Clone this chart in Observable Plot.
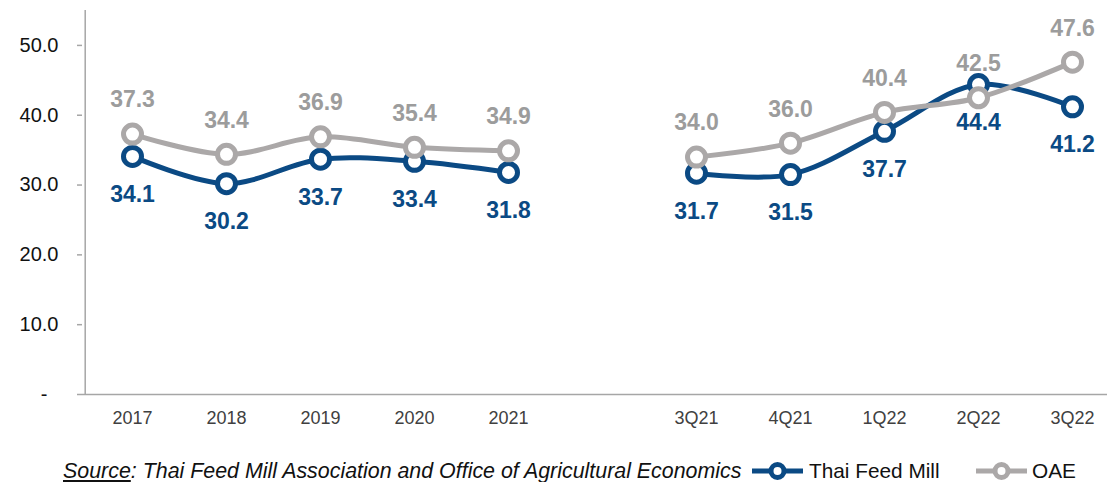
<!DOCTYPE html>
<html>
<head>
<meta charset="utf-8">
<script src="https://cdn.jsdelivr.net/npm/d3@7"></script>
<script src="https://cdn.jsdelivr.net/npm/@observablehq/plot@0.6"></script>
<style>
  html, body { margin: 0; padding: 0; background: #fff; }
  body { width: 1107px; height: 482px; overflow: hidden; font-family: Arial, "Liberation Sans", sans-serif; }
  #chart { position: relative; width: 1107px; height: 440px; }
  #foot { position: absolute; left: 0; top: 459px; width: 1107px; height: 24px; color: #111; }
  #foot .src { position: absolute; left: 63px; top: 0; font-style: italic; white-space: nowrap; font-size: 21.4px; line-height: 24px; }
  #foot .src u { text-decoration: underline; }
  .leg { position: absolute; top: 1px; display: flex; align-items: center; white-space: nowrap; font-size: 20.8px; line-height: 22px; }
</style>
</head>
<body>
<div id="chart"></div>
<div id="foot">
  <span class="src"><u>Source</u>: Thai Feed Mill Association and Office of Agricultural Economics</span>
  <span class="leg" id="leg1" style="left:752px"></span>
  <span class="leg" id="leg2" style="left:976px"></span>
</div>
<script>
// ---- data ----
const categories = ["2017", "2018", "2019", "2020", "2021", " ", "3Q21", "4Q21", "1Q22", "2Q22", "3Q22"];
const annualCats = ["2017", "2018", "2019", "2020", "2021"];
const quarterCats = ["3Q21", "4Q21", "1Q22", "2Q22", "3Q22"];
const thaiFeedMillAnnual = [34.1, 30.2, 33.7, 33.4, 31.8];
const thaiFeedMillQuarter = [31.7, 31.5, 37.7, 44.4, 41.2];
const oaeAnnual = [37.3, 34.4, 36.9, 35.4, 34.9];
const oaeQuarter = [34.0, 36.0, 40.4, 42.5, 47.6];
const yTicks = [0, 10, 20, 30, 40, 50];
const seriesNames = ["Thai Feed Mill", "OAE"];

const BLUE = "#0b4a84";
const GRAY = "#aba8a8";
const GRAY_TXT = "#9c9c9c";

function rows(cats, vals, group) {
  return cats.map((c, i) => ({cat: c, value: vals[i], group}));
}
const tfm = [...rows(annualCats, thaiFeedMillAnnual, "a"), ...rows(quarterCats, thaiFeedMillQuarter, "q")];
const oae = [...rows(annualCats, oaeAnnual, "a"), ...rows(quarterCats, oaeQuarter, "q")];

const fmt = d => d === 0 ? "-\u2007" : d.toFixed(1);

const chart = Plot.plot({
  width: 1107,
  height: 440,
  marginLeft: 82,
  marginRight: -15,
  marginTop: 10,
  marginBottom: 46,
  style: {fontFamily: "Arial, 'Liberation Sans', sans-serif", background: "transparent"},
  x: {type: "point", domain: categories, padding: 0.5, axis: null},
  y: {domain: [0, 55], axis: null},
  marks: [
    // axes
    Plot.ruleX([0], {x: () => categories[0], dx: -47.3, y1: 0, y2: 55, stroke: "#a6a6a6", strokeWidth: 1.5}),
    Plot.axisY(yTicks, {label: null, tickSize: 5, tickPadding: 19, tickFormat: fmt, fontSize: 20, fill: "#111", stroke: "#a6a6a6", strokeWidth: 1.5}),
    Plot.ruleY([0], {stroke: "#a6a6a6", strokeWidth: 1.5}),
    Plot.axisX([...annualCats, ...quarterCats], {label: null, tickSize: 0, tickPadding: 17, fontSize: 18, fill: "#404040"}),
    // Thai Feed Mill
    Plot.line(tfm, {x: "cat", y: "value", z: "group", stroke: BLUE, strokeWidth: 5, curve: "catmull-rom"}),
    Plot.dot(tfm, {x: "cat", y: "value", r: 9, stroke: BLUE, strokeWidth: 5, fill: "white"}),
    // OAE
    Plot.line(oae, {x: "cat", y: "value", z: "group", stroke: GRAY, strokeWidth: 5, curve: "catmull-rom"}),
    Plot.dot(oae, {x: "cat", y: "value", r: 9, stroke: GRAY, strokeWidth: 5, fill: "white"}),
    // labels
    Plot.text(tfm, {x: "cat", y: "value", text: d => d.value.toFixed(1), dy: 38, fill: BLUE, fontSize: 23, fontWeight: "bold"}),
    Plot.text(oae, {x: "cat", y: "value", text: d => d.value.toFixed(1), dy: -34, fill: GRAY_TXT, fontSize: 23, fontWeight: "bold"})
  ]
});
document.getElementById("chart").appendChild(chart);

function swatch(color) {
  return `<svg width="51" height="20" viewBox="0 0 51 20"><line x1="0" y1="10" x2="51" y2="10" stroke="${color}" stroke-width="5"/><circle cx="25.5" cy="10" r="6.5" fill="white" stroke="${color}" stroke-width="5"/></svg>`;
}
document.getElementById("leg1").innerHTML = swatch(BLUE) + `<span style="margin-left:6px">${seriesNames[0]}</span>`;
document.getElementById("leg2").innerHTML = swatch(GRAY) + `<span style="margin-left:5px">${seriesNames[1]}</span>`;
</script>
</body>
</html>
